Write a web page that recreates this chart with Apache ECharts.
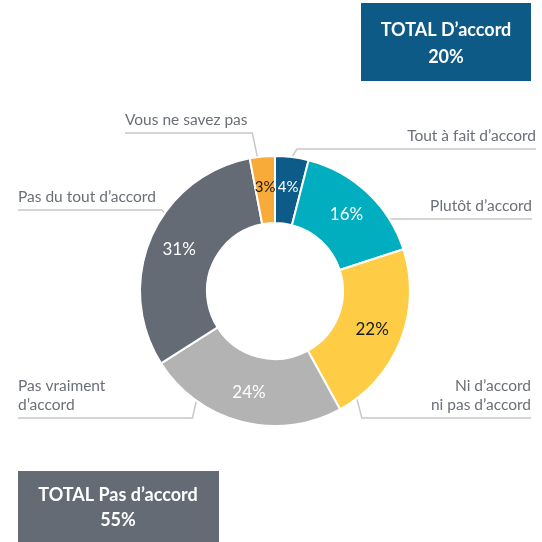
<!DOCTYPE html>
<html>
<head>
<meta charset="utf-8">
<style>
  html, body { margin: 0; padding: 0; background: #fff; }
  #main { width: 542px; height: 542px; }
</style>
<script src="https://cdn.jsdelivr.net/npm/echarts@6/dist/echarts.min.js"></script>
</head>
<body>
<div id="main"></div>
<script>
// données
var categories = ['Tout à fait d’accord', 'Plutôt d’accord', 'Ni d’accord\nni pas d’accord',
                  'Pas vraiment\nd’accord', 'Pas du tout d’accord', 'Vous ne savez pas'];
var values = [4, 16, 22, 24, 31, 3];
var agreeIdx = [0, 1];
var disagreeIdx = [3, 4];

// couleurs
var colors = ['#0d5b88', '#00aebf', '#fecd45', '#b3b3b3', '#646b75', '#f8ab39'];
var valueColors = ['#ffffff', '#ffffff', '#1a1a1a', '#ffffff', '#ffffff', '#1a1a1a'];

// géométrie de l'anneau
var CX = 275, CY = 291, R_IN = 68, R_OUT = 135;

// lignes de rappel : angle de départ sur l'anneau (degrés depuis midi), décalage du coude,
// hauteur du trait horizontal, extrémité du trait
var leaders = [
    {deg: 7.2,   dx: 5,  y: 149, end: 536},
    {deg: 57.8,  dx: 3,  y: 219, end: 532},
    {deg: 142.7, dx: 5,  y: 418, end: 531},
    {deg: 215.6, dx: -4, y: 418, end: 18},
    {deg: 305.3, dx: -3, y: 210, end: 18},
    {deg: 352.5, dx: -5, y: 133, end: 125}
];

function sumOf(idx) {
    var s = 0;
    for (var i = 0; i < idx.length; i++) s += values[idx[i]];
    return s;
}

var chart = echarts.init(document.getElementById('main'));

var sliceData = [], nameData = [];
for (var i = 0; i < values.length; i++) {
    sliceData.push({
        value: values[i],
        name: categories[i],
        itemStyle: {color: colors[i]},
        // les deux petites parts ont un texte plus petit
        label: {color: valueColors[i], fontSize: values[i] < 5 ? 15 : 17}
    });
    nameData.push({value: values[i], name: categories[i]});
}

chart.setOption({
    animation: false,
    backgroundColor: '#ffffff',
    series: [
        {
            // anneau + pourcentages
            type: 'pie',
            center: [CX, CY],
            radius: [R_IN, R_OUT],
            startAngle: 90,
            clockwise: true,
            silent: true,
            avoidLabelOverlap: false,
            itemStyle: {borderColor: '#ffffff', borderWidth: 2},
            label: {
                show: true,
                position: 'inside',
                formatter: '{c}%',
                fontFamily: 'Lato',
                fontSize: 17
            },
            labelLayout: {hideOverlap: false},
            labelLine: {show: false},
            data: sliceData
        },
        {
            // libellés extérieurs
            type: 'pie',
            center: [CX, CY],
            radius: [R_IN, R_OUT],
            startAngle: 90,
            clockwise: true,
            silent: true,
            avoidLabelOverlap: false,
            itemStyle: {color: 'rgba(0,0,0,0)', borderWidth: 0},
            label: {
                show: true,
                position: 'outside',
                formatter: '{b}',
                color: '#6b6f78',
                fontFamily: 'Lato',
                fontSize: 15.5,
                lineHeight: 19
            },
            labelLine: {
                show: true,
                length: 5,
                length2: 5,
                lineStyle: {color: '#c8c8c8', width: 1.5}
            },
            labelLayout: function (p) {
                var L = leaders[p.dataIndex];
                var a = L.deg * Math.PI / 180;
                var sx = CX + R_OUT * Math.sin(a),
                    sy = CY - R_OUT * Math.cos(a);
                var left = L.end < sx;
                return {
                    x: L.end,
                    y: L.y - 4,
                    align: left ? 'left' : 'right',
                    verticalAlign: 'bottom',
                    hideOverlap: false,
                    labelLinePoints: [[sx, sy], [sx + L.dx, L.y], [L.end, L.y]]
                };
            },
            data: nameData
        }
    ],
    graphic: [
        {
            type: 'rect',
            shape: {x: 361, y: 3, width: 170, height: 78},
            style: {fill: '#0d5a87'}
        },
        {
            type: 'text',
            x: 446, y: 44,
            style: {
                text: 'TOTAL D’accord\n' + sumOf(agreeIdx) + '%',
                fill: '#ffffff',
                font: 'bold 18px Lato',
                align: 'center',
                verticalAlign: 'middle',
                lineHeight: 27
            }
        },
        {
            type: 'rect',
            shape: {x: 18, y: 471, width: 201, height: 80},
            style: {fill: '#646b75'}
        },
        {
            type: 'text',
            x: 118, y: 508,
            style: {
                text: 'TOTAL Pas d’accord\n' + sumOf(disagreeIdx) + '%',
                fill: '#ffffff',
                font: 'bold 18px Lato',
                align: 'center',
                verticalAlign: 'middle',
                lineHeight: 25
            }
        }
    ]
});
</script>
</body>
</html>
